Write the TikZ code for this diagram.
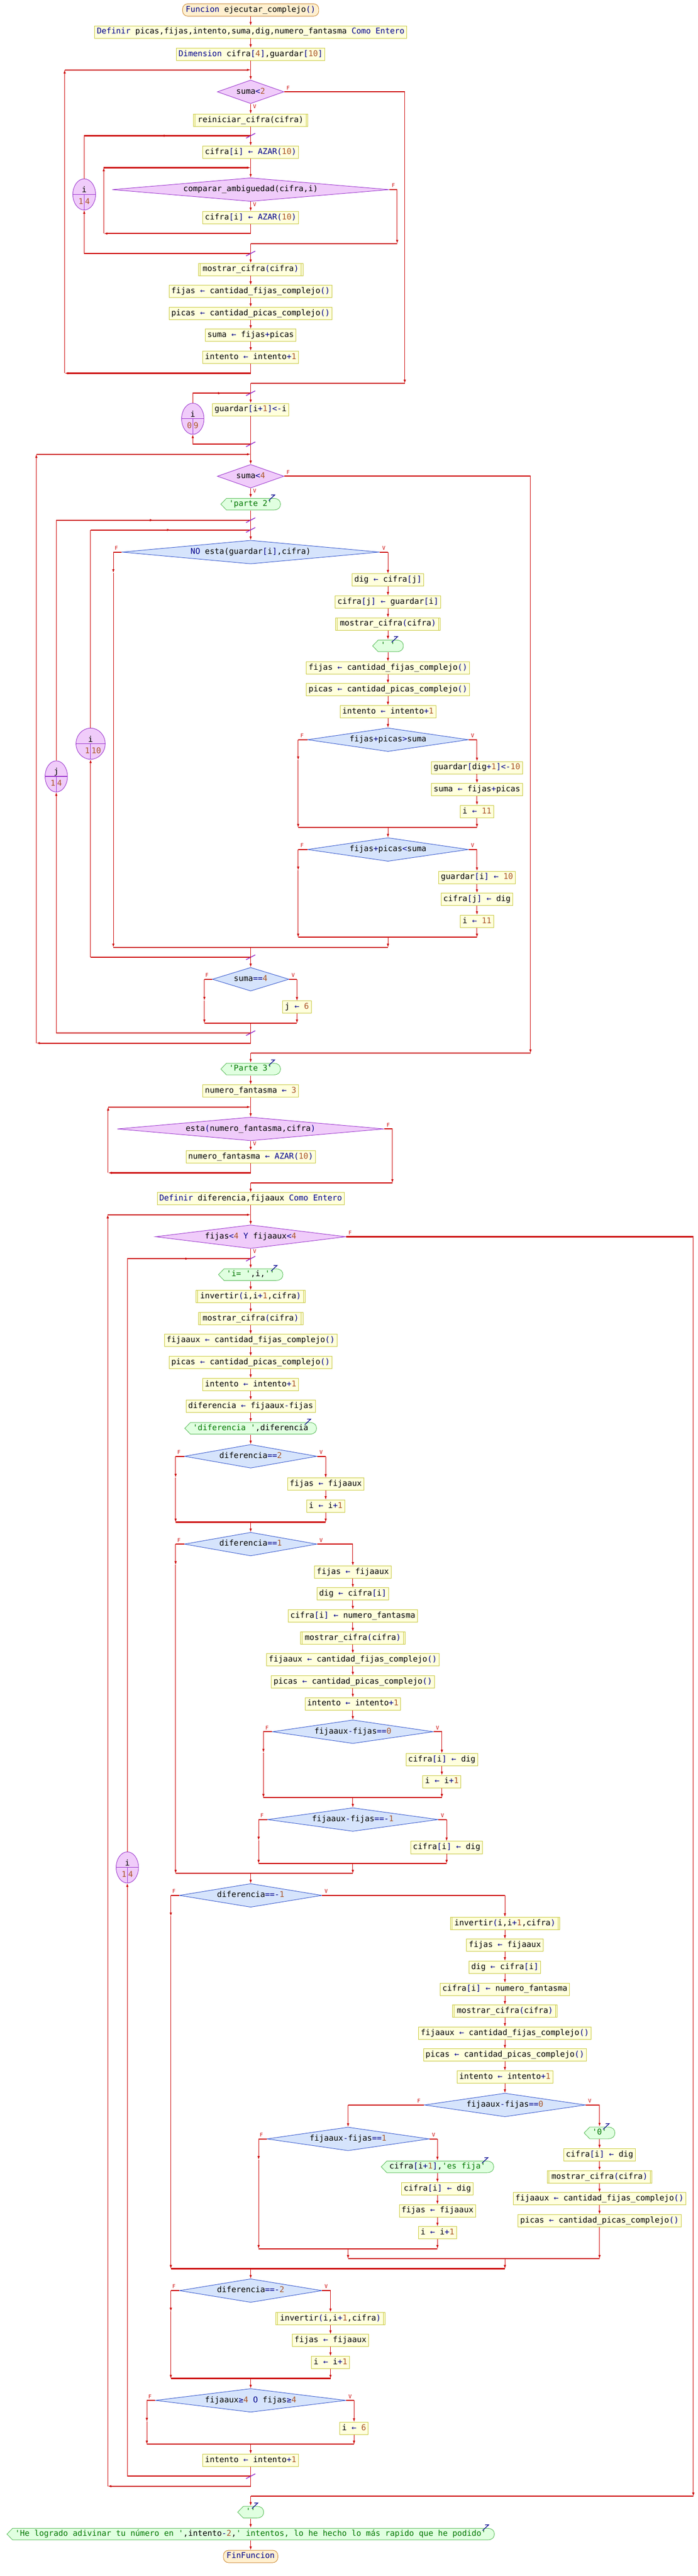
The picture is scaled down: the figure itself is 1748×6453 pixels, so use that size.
\documentclass[tikz,border=0pt]{standalone}
\usepackage{fontspec}
\setmonofont{DejaVu Sans Mono}
\usetikzlibrary{shapes.geometric,arrows.meta,decorations.markings}

\definecolor{flowred}{RGB}{204,0,0}
\definecolor{boxfill}{RGB}{255,255,221}
\definecolor{boxline}{RGB}{200,200,60}
\definecolor{termfill}{RGB}{255,240,208}
\definecolor{termline}{RGB}{204,136,51}
\definecolor{loopfill}{RGB}{240,204,250}
\definecolor{loopline}{RGB}{153,51,204}
\definecolor{iffill}{RGB}{214,228,252}
\definecolor{ifline}{RGB}{51,85,204}
\definecolor{outfill}{RGB}{224,255,224}
\definecolor{outborder}{RGB}{90,190,90}
\definecolor{kwcol}{RGB}{0,0,140}
\definecolor{numcol}{RGB}{170,85,40}
\definecolor{strcol}{RGB}{0,120,0}

\newcommand{\kw}[1]{\textcolor{kwcol}{#1}}
\newcommand{\nm}[1]{\textcolor{numcol}{#1}}
\newcommand{\qs}[1]{\textcolor{strcol}{#1}}
\newcommand{\asg}{\kw{←}}
\newcommand{\ctr}[1]{\makebox[0pt]{#1}}

\tikzstyle{base} = [font=\ttfamily\fontsize{20}{24}\selectfont, text height=14pt, text depth=4pt, inner ysep=0pt, minimum height=31pt, line width=1.2pt]
\tikzstyle{proc} = [base, draw=boxline, fill=boxfill, inner xsep=5.5pt]
\tikzstyle{subproc} = [proc, inner xsep=10.5pt, path picture={
	\draw[draw=boxline, line width=1.2pt] ([xshift=4pt]path picture bounding box.north west) -- ([xshift=4pt]path picture bounding box.south west)
	([xshift=-4pt]path picture bounding box.north east) -- ([xshift=-4pt]path picture bounding box.south east);}]
\tikzstyle{term} = [base, draw=termline, fill=termfill, rounded corners=13pt, inner xsep=8pt]
\tikzstyle{loopcond} = [base, diamond, draw=loopline, fill=loopfill, inner sep=0pt, minimum height=59pt]
\tikzstyle{ifcond} = [base, diamond, draw=ifline, fill=iffill, inner sep=0pt, minimum height=59pt]
\tikzstyle{outbox} = [base, fill=white, inner xsep=21.5pt, path picture={
	\filldraw[fill=outfill, draw=outborder, line width=1.2pt]
	([xshift=1pt]path picture bounding box.west) -- ([shift={(15pt,-1pt)}]path picture bounding box.north west)
	-- ([shift={(-18pt,-1pt)}]path picture bounding box.north east)
	.. controls ([shift={(-6pt,-1pt)}]path picture bounding box.north east) and ([shift={(-1pt,8pt)}]path picture bounding box.east) .. ([xshift=-1pt]path picture bounding box.east)
	.. controls ([shift={(-1pt,-8pt)}]path picture bounding box.east) and ([shift={(-6pt,1pt)}]path picture bounding box.south east) .. ([shift={(-18pt,1pt)}]path picture bounding box.south east)
	-- ([shift={(15pt,1pt)}]path picture bounding box.south west) -- cycle;}]
\tikzstyle{forloop} = [ellipse, draw=loopline, fill=loopfill, line width=1.2pt, inner sep=0pt, minimum height=78pt]
\tikzstyle{varlbl} = [font=\ttfamily\fontsize{20}{24}\selectfont, inner sep=0pt]
\tikzstyle{lbl} = [font=\ttfamily\fontsize{13}{15}\selectfont, text=flowred, inner sep=0pt]
\tikzstyle{vl} = [color=flowred, line width=1.3pt]
\tikzstyle{hl} = [color=flowred, line width=2.8pt]
\tikzstyle{midarrow} = [postaction={decorate}, decoration={markings, mark=at position 0.5 with {\arrow{>}}}]
\tikzstyle{slash} = [color=loopline, line width=2pt]
\tikzstyle{outmark} = [color=kwcol, line width=1.6pt]

\begin{document}
\begin{tikzpicture}[x=1pt, y=-1pt, >={Latex[length=9pt,width=6pt]}]
		\fill[white] (0,0) rectangle (1748,6453);
		\useasboundingbox (0,0) rectangle (1748,6453);
		% main column
		\node[term] (fn) at (628,25) {\kw{Funcion} ejecutar\_complejo\kw{()}};
		\node[proc] (def1) at (628,80) {\kw{Definir} picas,fijas,intento,suma,dig,numero\_fantasma \kw{Como Entero}};
		\node[proc] (dim) at (628,136) {\kw{Dimension} cifra\kw{[}\nm{4}\kw{]},guardar\kw{[}\nm{10}\kw{]}};
		\node[loopcond, minimum width=167pt] (w1) at (628,230) {\ctr{suma\kw{<}\nm{2}}};
		\node[subproc] (reini) at (628,301) {reiniciar\_cifra(cifra)};
		\node[proc] (az1) at (628,381) {cifra\kw{[}i\kw{]} \asg{} \kw{AZAR(}\nm{10}\kw{)}};
		\node[loopcond, minimum width=694pt] (w2) at (628,475) {\ctr{comparar\_ambiguedad(cifra,i)}};
		\node[proc] (az2) at (628,545) {cifra\kw{[}i\kw{]} \asg{} \kw{AZAR(}\nm{10}\kw{)}};
		\node[subproc] (mos1) at (628,675) {mostrar\_cifra\kw{(}cifra\kw{)}};
		\node[proc] (fij1) at (628,730) {fijas \asg{} cantidad\_fijas\_complejo\kw{()}};
		\node[proc] (pic1) at (628,785) {picas \asg{} cantidad\_picas\_complejo\kw{()}};
		\node[proc] (sum1) at (628,840) {suma \asg{} fijas\kw{+}picas};
		\node[proc] (int1) at (628,895) {intento \asg{} intento\kw{+}\nm{1}};
		\node[proc] (gua) at (628,1026) {guardar\kw{[}i\kw{+}\nm{1}\kw{]<-}i};
		\node[loopcond, minimum width=167pt] (w3) at (628,1193) {\ctr{suma\kw{<}\nm{4}}};
		\node[outbox] (out1) at (628,1263) {\qs{'parte 2'}};
		\node[ifcond, minimum width=646pt] (if1) at (628,1383) {\ctr{\kw{NO} esta(guardar\kw{[}i\kw{]},cifra)}};
		\node[proc] (dig1) at (972,1453) {dig \asg{} cifra\kw{[}j\kw{]}};
		\node[proc] (cj1) at (972,1508) {cifra\kw{[}j\kw{]} \asg{} guardar\kw{[}i\kw{]}};
		\node[subproc] (mos2) at (972,1563) {mostrar\_cifra\kw{(}cifra\kw{)}};
		\node[outbox] (out7) at (972,1618) {\qs{' '}};
		\node[proc] (fij2) at (972,1673) {fijas \asg{} cantidad\_fijas\_complejo\kw{()}};
		\node[proc] (pic2) at (972,1728) {picas \asg{} cantidad\_picas\_complejo\kw{()}};
		\node[proc] (int2) at (972,1783) {intento \asg{} intento\kw{+}\nm{1}};
		\node[ifcond, minimum width=403pt] (if2) at (972,1853) {\ctr{fijas\kw{+}picas\kw{>}suma}};
		\node[proc] (gd) at (1195,1923) {guardar\kw{[}dig\kw{+}\nm{1}\kw{]<-}\nm{10}};
		\node[proc] (sum2) at (1195,1978) {suma \asg{} fijas\kw{+}picas};
		\node[proc] (i11a) at (1195,2033) {i \asg{} \nm{11}};
		\node[ifcond, minimum width=403pt] (if3) at (972,2128) {\ctr{fijas\kw{+}picas\kw{<}suma}};
		\node[proc] (gi) at (1195,2198) {guardar\kw{[}i\kw{]} \asg{} \nm{10}};
		\node[proc] (cjd) at (1195,2253) {cifra\kw{[}j\kw{]} \asg{} dig};
		\node[proc] (i11b) at (1195,2308) {i \asg{} \nm{11}};
		\node[ifcond, minimum width=192pt] (if6) at (628,2453) {\ctr{suma\kw{==}\nm{4}}};
		\node[proc] (j6) at (744,2523) {j \asg{} \nm{6}};
		\node[outbox] (out2) at (628,2678) {\qs{'Parte 3'}};
		\node[proc] (nf) at (628,2733) {numero\_fantasma \asg{} \nm{3}};
		\node[loopcond, minimum width=668pt] (w4) at (628,2828) {\ctr{esta\kw{(}numero\_fantasma,cifra\kw{)}}};
		\node[proc] (az3) at (628,2898) {numero\_fantasma \asg{} \kw{AZAR(}\nm{10}\kw{)}};
		\node[proc] (def2) at (628,3003) {\kw{Definir} diferencia,fijaaux \kw{Como Entero}};
		\node[loopcond, minimum width=477pt] (w5) at (628,3098) {\ctr{fijas\kw{<}\nm{4} \kw{Y} fijaaux\kw{<}\nm{4}}};
		\node[outbox] (out3) at (628,3193) {\qs{'i= '},i,\qs{''}};
		\node[subproc] (inv1) at (628,3248) {invertir\kw{(}i,i\kw{+}\nm{1},cifra\kw{)}};
		\node[subproc] (mos3) at (628,3303) {mostrar\_cifra\kw{(}cifra\kw{)}};
		\node[proc] (fja1) at (628,3358) {fijaaux \asg{} cantidad\_fijas\_complejo\kw{()}};
		\node[proc] (pic3) at (628,3413) {picas \asg{} cantidad\_picas\_complejo\kw{()}};
		\node[proc] (int3) at (628,3468) {intento \asg{} intento\kw{+}\nm{1}};
		\node[proc] (dif) at (628,3523) {diferencia \asg{} fijaaux\kw{-}fijas};
		\node[outbox] (out4) at (628,3578) {\qs{'diferencia '},diferencia};
		\node[ifcond, minimum width=332pt] (if7) at (628,3648) {\ctr{diferencia\kw{==}\nm{2}}};
		\node[proc] (fjx1) at (816,3718) {fijas \asg{} fijaaux};
		\node[proc] (ii1) at (816,3773) {i \asg{} i\kw{+}\nm{1}};
		\node[ifcond, minimum width=332pt] (if8) at (628,3868) {\ctr{diferencia\kw{==}\nm{1}}};
		\node[proc] (fjx2) at (884,3938) {fijas \asg{} fijaaux};
		\node[proc] (dg2) at (884,3993) {dig \asg{} cifra\kw{[}i\kw{]}};
		\node[proc] (cnf1) at (884,4048) {cifra\kw{[}i\kw{]} \asg{} numero\_fantasma};
		\node[subproc] (mos4) at (884,4103) {mostrar\_cifra\kw{(}cifra\kw{)}};
		\node[proc] (fja2) at (884,4158) {fijaaux \asg{} cantidad\_fijas\_complejo\kw{()}};
		\node[proc] (pic4) at (884,4213) {picas \asg{} cantidad\_picas\_complejo\kw{()}};
		\node[proc] (int4) at (884,4268) {intento \asg{} intento\kw{+}\nm{1}};
		\node[ifcond, minimum width=403pt] (if9) at (884,4338) {\ctr{fijaaux\kw{-}fijas\kw{==}\nm{0}}};
		\node[proc] (cd1) at (1107,4408) {cifra\kw{[}i\kw{]} \asg{} dig};
		\node[proc] (ii2) at (1107,4463) {i \asg{} i\kw{+}\nm{1}};
		\node[ifcond, minimum width=428pt] (if10) at (884,4558) {\ctr{fijaaux\kw{-}fijas\kw{==-}\nm{1}}};
		\node[proc] (cd2) at (1119,4628) {cifra\kw{[}i\kw{]} \asg{} dig};
		\node[ifcond, minimum width=357pt] (if11) at (628,4748) {\ctr{diferencia\kw{==-}\nm{1}}};
		\node[subproc] (inv2) at (1265,4818) {invertir\kw{(}i,i\kw{+}\nm{1},cifra\kw{)}};
		\node[proc] (fjx3) at (1265,4873) {fijas \asg{} fijaaux};
		\node[proc] (dg3) at (1265,4928) {dig \asg{} cifra\kw{[}i\kw{]}};
		\node[proc] (cnf2) at (1265,4983) {cifra\kw{[}i\kw{]} \asg{} numero\_fantasma};
		\node[subproc] (mos5) at (1265,5038) {mostrar\_cifra\kw{(}cifra\kw{)}};
		\node[proc] (fja3) at (1265,5093) {fijaaux \asg{} cantidad\_fijas\_complejo\kw{()}};
		\node[proc] (pic5) at (1265,5148) {picas \asg{} cantidad\_picas\_complejo\kw{()}};
		\node[proc] (int5) at (1265,5203) {intento \asg{} intento\kw{+}\nm{1}};
		\node[ifcond, minimum width=404pt] (if12) at (1265,5273) {\ctr{fijaaux\kw{-}fijas\kw{==}\nm{0}}};
		\node[outbox] (out8) at (1502,5343) {\qs{'0'}};
		\node[proc] (cd3) at (1502,5398) {cifra\kw{[}i\kw{]} \asg{} dig};
		\node[subproc] (mos6) at (1502,5453) {mostrar\_cifra\kw{(}cifra\kw{)}};
		\node[proc] (fja4) at (1502,5508) {fijaaux \asg{} cantidad\_fijas\_complejo\kw{()}};
		\node[proc] (pic6) at (1502,5563) {picas \asg{} cantidad\_picas\_complejo\kw{()}};
		\node[ifcond, minimum width=407pt] (if13) at (872,5358) {\ctr{fijaaux\kw{-}fijas\kw{==}\nm{1}}};
		\node[outbox] (out9) at (1096,5428) {cifra\kw{[}i\kw{+}\nm{1}\kw{]},\qs{'es fija'}};
		\node[proc] (cd4) at (1096,5483) {cifra\kw{[}i\kw{]} \asg{} dig};
		\node[proc] (fjx4) at (1096,5538) {fijas \asg{} fijaaux};
		\node[proc] (ii3) at (1096,5593) {i \asg{} i\kw{+}\nm{1}};
		\node[ifcond, minimum width=357pt] (if14) at (628,5738) {\ctr{diferencia\kw{==-}\nm{2}}};
		\node[subproc] (inv3) at (828,5808) {invertir\kw{(}i,i\kw{+}\nm{1},cifra\kw{)}};
		\node[proc] (fjx5) at (828,5863) {fijas \asg{} fijaaux};
		\node[proc] (ii4) at (828,5918) {i \asg{} i\kw{+}\nm{1}};
		\node[ifcond, minimum width=477pt] (if15) at (628,6013) {\ctr{fijaaux\kw{≥}\nm{4} \kw{O} fijas\kw{≥}\nm{4}}};
		\node[proc] (i6) at (887,6083) {i \asg{} \nm{6}};
		\node[proc] (int9) at (628,6163) {intento \asg{} intento\kw{+}\nm{1}};
		\node[outbox] (out5) at (628,6293) {\qs{''}};
		\node[outbox] (out6) at (628,6348) {\qs{'He logrado adivinar tu número en '},intento\kw{-}\nm{2},\qs{' intentos, lo he hecho lo más rapido que he podido'}};
		\node[term] (fin) at (628,6404) {\kw{FinFuncion}};
		% loop counters
		\foreach \k/\x/\y/\w/\v/\a/\b in {1/211/487/57pt/i/1/4, 2/483/1049/56pt/i/0/9, 3/141/1945/56pt/j/1/4, 4/227/1863/73pt/i/1/10, 5/319/4678/56pt/i/1/4} {
			\node[forloop, minimum width=\w] (fo\k) at (\x,\y) {};
			\draw[color=loopline, line width=1.5pt] (fo\k.west) -- (fo\k.east) (fo\k.center) -- (fo\k.south);
			\node[varlbl] (fv\k) at ([yshift=12pt]fo\k.center) {\v};
			\node[varlbl, anchor=east, text=numcol] (fl\k) at ([shift={(-2pt,-17pt)}]fo\k.center) {\a};
			\node[varlbl, anchor=west, text=numcol] (fr\k) at ([shift={(2pt,-17pt)}]fo\k.center) {\b};
		}
		% junctions
		\foreach \n/\x/\y in {wt1/628/175, wa1/162/175, wb1/162/935, wr1/628/935, xa1/1014/230, xb1/1014/960, xc1/628/960,
			wt2/628/420, wa2/260/420, wb2/260/585, wr2/628/585, xa2/995/475, xb2/995/610, xc2/628/610,
			wt3/628/1138, wa3/91/1138, wb3/91/2613, wr3/628/2613, xa3/1329/1193, xb3/1329/2638, xc3/628/2638,
			wt4/628/2773, wa4/271/2773, wb4/271/2938, wr4/628/2938, xa4/983/2828, xb4/983/2963, xc4/628/2963,
			wt5/628/3043, wa5/270/3043, wb5/270/6228, wr5/628/6228, xa5/1737/3098, xb5/1737/6253, xc5/628/6253,
			ft1/628/340, lt1/211/340, fe1/628/635, le1/211/635,
			ft2/628/985, lt2/483/985, fe2/628/1113, le2/483/1113,
			ft3/628/1303, lt3/141/1303, fe3/628/2588, le3/141/2588,
			ft4/628/1327.5, lt4/227/1327.5, fe4/628/2398, le4/227/2398,
			ft5/628/3153, lt5/319/3153, fe5/628/6203, le5/319/6203}
		\coordinate (\n) at (\x,\y);
		\foreach \k/\fx/\fy/\my/\vx/\jy/\jx in {1/284/1383/1435/972/2373/628, 2/747/1853/1904/1195/2073/972, 3/747/2128/2180/1195/2348/972,
			6/512/2453/2506/744/2563/628, 7/440/3648/3701/816/3813/628, 8/440/3868/3920/884/4693/628,
			9/660/4338/4390/1107/4503/884, 10/648/4558/4610/1119/4668/884, 11/428/4748/4800/1265/5683/628,
			12/872/5273/5273/1502/5658/1265, 13/648/5358/5410/1096/5633/872, 14/428/5738/5790/828/5958/628,
			15/368/6013/6066/887/6123/628} {
			\coordinate (fa\k) at (\fx,\fy);
			\coordinate (fm\k) at (\fx,\my);
			\coordinate (fj\k) at (\fx,\jy);
			\coordinate (vb\k) at (\vx,\fy);
			\coordinate (vj\k) at (\vx,\jy);
			\coordinate (jn\k) at (\jx,\jy);
		}
		% straight flow
		\foreach \a/\b in {fn/def1, def1/dim, dim/w1, w1/reini, reini/az1, az1/w2, w2/az2, mos1/fij1, fij1/pic1, pic1/sum1, sum1/int1,
			gua/w3, w3/out1, out1/if1, dig1/cj1, cj1/mos2, mos2/out7, out7/fij2, fij2/pic2, pic2/int2, int2/if2, gd/sum2, sum2/i11a,
			gi/cjd, cjd/i11b, out2/nf, nf/w4, w4/az3, def2/w5, w5/out3, out3/inv1, inv1/mos3, mos3/fja1, fja1/pic3, pic3/int3,
			int3/dif, dif/out4, out4/if7, fjx1/ii1, fjx2/dg2, dg2/cnf1, cnf1/mos4, mos4/fja2, fja2/pic4, pic4/int4, int4/if9,
			cd1/ii2, inv2/fjx3, fjx3/dg3, dg3/cnf2, cnf2/mos5, mos5/fja3, fja3/pic5, pic5/int5, int5/if12, out8/cd3, cd3/mos6,
			mos6/fja4, fja4/pic6, out9/cd4, cd4/fjx4, fjx4/ii3, inv3/fjx5, fjx5/ii4, out5/out6, out6/fin}
		\draw[vl,->] (\a.south) -- (\b.north);
		% while loops
		\foreach \k/\l/\n in {1/int1/gua, 2/az2/mos1, 4/az3/def2, 5/int9/out5} {
			\draw[vl] (\l.south) -- (wr\k);
			\draw[vl,->] (xc\k) -- (\n.north);
		}
		\draw[vl] (jn6) -- (wr3);
		\draw[vl,->] (xc3) -- (out2.north);
		\foreach \k in {1,...,5} {
			\draw[hl,->] (wr\k) -- (wb\k);
			\draw[vl,->] (wb\k) -- (wa\k);
			\draw[hl,->] (wa\k) -- (wt\k);
			\draw[hl] (w\k.east) -- (xa\k);
			\draw[vl,->] (xa\k) -- (xb\k);
			\draw[hl] (xb\k) -- (xc\k);
			\node[lbl] (w\k f) at ([shift={(10pt,10pt)}]w\k.east) {F};
			\node[lbl] (w\k v) at ([shift={(10pt,-7pt)}]w\k.south) {V};
		}
		% for loops
		\foreach \k in {1,...,5} {
			\draw[vl] (fo\k.north) -- (lt\k);
			\draw[hl,midarrow] (lt\k) -- (ft\k);
			\draw[hl] (fe\k) -- (le\k);
			\draw[vl,->] (le\k) -- (fo\k.south);
			\draw[slash] ([shift={(-11.5pt,-6pt)}]ft\k) -- ([shift={(11.5pt,6pt)}]ft\k);
			\draw[slash] ([shift={(-11.5pt,-6pt)}]fe\k) -- ([shift={(11.5pt,6pt)}]fe\k);
		}
		% conditionals
		\foreach \k/\v/\e in {1/dig1/i11b, 2/gd/i11a, 3/gi/i11b, 6/j6/j6, 7/fjx1/ii1, 8/fjx2/ii2, 9/cd1/ii2, 10/cd2/cd2, 11/inv2/pic6, 13/out9/ii3, 14/inv3/ii4, 15/i6/i6} {
			\draw[hl] (if\k.west) -- (fa\k);
			\draw[vl,->] (fa\k) -- (fm\k);
			\draw[vl,->] (fm\k) -- (fj\k);
			\draw[hl] (if\k.east) -- (vb\k);
			\draw[vl,->] (vb\k) -- (\v.north);
			\draw[hl] (fj\k) -- (vj\k);
		}
		\foreach \k/\e in {2/i11a, 3/i11b, 6/j6, 7/ii1, 9/ii2, 10/cd2, 12/pic6, 13/ii3, 14/ii4, 15/i6}
		\draw[vl,->] (\e.south) -- (vj\k);
		\foreach \a/\b in {jn3/vj1, jn10/vj8, jn13/fj12, jn12/vj11}
		\draw[vl,->] (\a) -- (\b);
		\foreach \a/\b in {jn2/if3, jn1/if6, jn7/if8, jn9/if10, jn8/if11, jn11/if14, jn14/if15, jn15/int9}
		\draw[vl,->] (\a) -- (\b.north);
		\draw[hl] (if12.west) -- (fa12);
		\draw[vl,->] (fa12) -- (if13.north);
		\draw[hl] (if12.east) -- (vb12);
		\draw[vl,->] (vb12) -- (out8.north);
		\draw[hl] (fj12) -- (vj12);
		\foreach \d in {if1,if2,if3,if6,if7,if8,if9,if10,if11,if12,if13,if14,if15} {
			\node[lbl] (\d f) at ([shift={(-13pt,10pt)}]\d.west) {F};
			\node[lbl] (\d v) at ([shift={(10pt,10pt)}]\d.east) {V};
		}
		% output marks
		\foreach \o in {out1,out2,out3,out4,out5,out6,out7,out8,out9}
		\draw[outmark] ([shift={(-25pt,7pt)}]\o.north east) -- ++(9pt,0pt) -- ++(-15pt,-14pt);
	\end{tikzpicture}
\end{document}
